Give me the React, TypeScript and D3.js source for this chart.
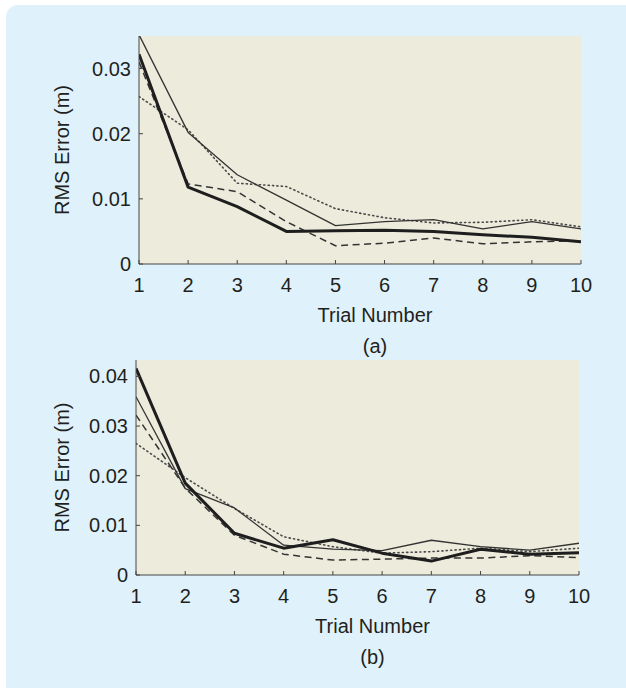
import React from "react";
import * as d3 from "d3";

const trials = [1, 2, 3, 4, 5, 6, 7, 8, 9, 10];

// Panel (a)
const aThin = [0.0352, 0.0202, 0.0137, 0.0098, 0.0059, 0.0065, 0.0068, 0.0054, 0.0065, 0.0054];
const aThick = [0.0322, 0.0118, 0.0088, 0.005, 0.0051, 0.0052, 0.005, 0.0045, 0.0041, 0.0034];
const aDashed = [0.031, 0.0123, 0.0111, 0.0065, 0.0028, 0.0032, 0.004, 0.0031, 0.0034, 0.0036];
const aDotted = [0.0257, 0.0206, 0.0124, 0.0119, 0.0085, 0.0071, 0.0063, 0.0064, 0.0068, 0.0057];
const aTicks = [0, 0.01, 0.02, 0.03];

// Panel (b)
const bThin = [0.0359, 0.0174, 0.0135, 0.006, 0.0052, 0.0049, 0.007, 0.0057, 0.005, 0.0064];
const bThick = [0.0416, 0.0185, 0.0084, 0.0054, 0.0071, 0.0044, 0.0028, 0.0052, 0.0042, 0.0045];
const bDashed = [0.0322, 0.0175, 0.008, 0.0042, 0.003, 0.0032, 0.0034, 0.0034, 0.0039, 0.0035];
const bDotted = [0.0265, 0.0196, 0.0134, 0.0077, 0.0057, 0.0044, 0.0047, 0.0054, 0.0047, 0.0054];
const bTicks = [0, 0.01, 0.02, 0.03, 0.04];

const TEXT = "#231f20";
const FONT = "'Liberation Sans', Arial, Helvetica, sans-serif";
const FS = 20;

type PanelProps = {
  left: number;
  right: number;
  top: number;
  bottom: number;
  yMax: number;
  yTicks: number[];
  thin: number[];
  thick: number[];
  dashed: number[];
  dotted: number[];
  caption: string;
};

function Panel(p: PanelProps) {
  const x = d3.scaleLinear().domain([1, 10]).range([p.left, p.right]);
  const y = d3.scaleLinear().domain([0, p.yMax]).range([p.bottom, p.top]);
  const line = d3
    .line<number>()
    .x((_, i) => x(trials[i]))
    .y((d) => y(d));
  const clipId = "clip" + p.caption.replace(/\W/g, "");
  const fmt = (v: number) => (v === 0 ? "0" : d3.format(".2f")(v));
  return (
    <g>
      <defs>
        <clipPath id={clipId}>
          <rect x={p.left} y={p.top} width={p.right - p.left} height={p.bottom - p.top} />
        </clipPath>
      </defs>
      <rect x={p.left} y={p.top} width={p.right - p.left} height={p.bottom - p.top} fill="#ecebdc" />
      <g clipPath={`url(#${clipId})`} fill="none" strokeLinejoin="round">
        <path d={line(p.dotted) || ""} stroke="#4a4a4a" strokeWidth={1.6} strokeDasharray="1.2,3.2" strokeLinecap="round" />
        <path d={line(p.dashed) || ""} stroke="#333" strokeWidth={1.5} strokeDasharray="7,4.5" />
        <path d={line(p.thin) || ""} stroke="#333" strokeWidth={1.3} />
        <path d={line(p.thick) || ""} stroke="#1e1e1e" strokeWidth={3} />
      </g>
      {/* axes */}
      <line x1={p.left} x2={p.left} y1={p.top} y2={p.bottom} stroke="#444" strokeWidth={1} />
      <line x1={p.left} x2={p.right} y1={p.bottom} y2={p.bottom} stroke="#444" strokeWidth={1} />
      {trials.map((t) => (
        <g key={"x" + t}>
          <line x1={x(t)} x2={x(t)} y1={p.bottom} y2={p.bottom - 4} stroke="#444" />
          <text x={x(t)} y={p.bottom + 28} textAnchor="middle" fontSize={FS} fill={TEXT} fontFamily={FONT}>
            {t}
          </text>
        </g>
      ))}
      {p.yTicks.map((v) => (
        <g key={"y" + v}>
          <line x1={p.left} x2={p.left + 4} y1={y(v)} y2={y(v)} stroke="#444" />
          <text x={p.left - 8} y={y(v) + 7} textAnchor="end" fontSize={FS} fill={TEXT} fontFamily={FONT}>
            {fmt(v)}
          </text>
        </g>
      ))}
      <text
        transform={`translate(69,${(p.top + p.bottom) / 2}) rotate(-90)`}
        textAnchor="middle"
        fontSize={FS}
        fill={TEXT}
        fontFamily={FONT}
      >
        RMS Error (m)
      </text>
      <text x={(p.left + p.right) / 2 + 15} y={p.bottom + 58} textAnchor="middle" fontSize={FS} fill={TEXT} fontFamily={FONT}>
        Trial Number
      </text>
      <text x={(p.left + p.right) / 2 + 15} y={p.bottom + 89} textAnchor="middle" fontSize={FS} fill={TEXT} fontFamily={FONT}>
        {p.caption}
      </text>
    </g>
  );
}

export default function App() {
  return (
    <svg
      width={626}
      height={688}
      style={{ position: "absolute", left: 0, top: 0 }}
      xmlns="http://www.w3.org/2000/svg"
    >
      <rect x={0} y={0} width={626} height={688} fill="#ffffff" />
      <rect x={6} y={5} width={650} height={720} rx={12} fill="#dff2fc" />
      <Panel
        left={139}
        right={581}
        top={36}
        bottom={264}
        yMax={0.035}
        yTicks={aTicks}
        thin={aThin}
        thick={aThick}
        dashed={aDashed}
        dotted={aDotted}
        caption="(a)"
      />
      <Panel
        left={136}
        right={579}
        top={360}
        bottom={575}
        yMax={0.0433}
        yTicks={bTicks}
        thin={bThin}
        thick={bThick}
        dashed={bDashed}
        dotted={bDotted}
        caption="(b)"
      />
    </svg>
  );
}
